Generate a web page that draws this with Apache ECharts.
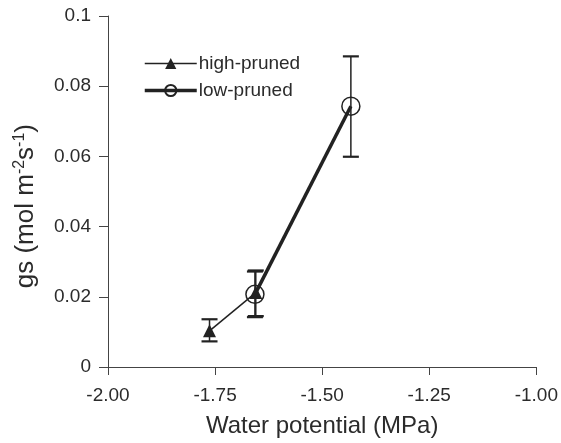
<!DOCTYPE html>
<html><head><meta charset="utf-8">
<script src="https://cdn.jsdelivr.net/npm/echarts@6/dist/echarts.min.js"></script>
<style>html,body{margin:0;padding:0;background:#fff}#c{width:561px;height:443px}</style>
</head><body><div id="c"></div>
<script>
// Data
const seriesNames = ['high-pruned', 'low-pruned'];
const highX = [-1.763, -1.655];
const highY = [0.0103, 0.0212];
const highLo = [0.0073, 0.0145];
const highHi = [0.0136, 0.0275];
const lowX = [-1.657, -1.433];
const lowY = [0.0207, 0.0743];
const lowLo = [0.0142, 0.0599];
const lowHi = [0.0272, 0.0885];
const xTicks = [-2.00, -1.75, -1.50, -1.25, -1.00];
const yTicks = [0, 0.02, 0.04, 0.06, 0.08, 0.1];

const font = 'Liberation Sans, Arial, Helvetica, sans-serif';
const txt = '#2b2b2b';
const ink = '#222';

function pts(xs, ys) { return xs.map((x, i) => [x, ys[i]]); }
function errData(xs, lo, hi) { return xs.map((x, i) => [x, lo[i], hi[i]]); }

function errRender(params, api) {
  const x = api.value(0), lo = api.value(1), hi = api.value(2);
  const p1 = api.coord([x, hi]), p2 = api.coord([x, lo]);
  const w = 8;
  const st = { stroke: ink, lineWidth: 1.5 };
  return { type: 'group', children: [
    { type: 'line', shape: { x1: p1[0], y1: p1[1], x2: p2[0], y2: p2[1] }, style: st },
    { type: 'line', shape: { x1: p1[0]-w, y1: p1[1], x2: p1[0]+w, y2: p1[1] }, style: { stroke: ink, lineWidth: 2.2 } },
    { type: 'line', shape: { x1: p2[0]-w, y1: p2[1], x2: p2[0]+w, y2: p2[1] }, style: { stroke: ink, lineWidth: 2.2 } }
  ]};
}

const chart = echarts.init(document.getElementById('c'), null, { renderer: 'canvas' });
chart.setOption({
  animation: false,
  backgroundColor: '#fff',
  grid: { left: 108, right: 22, top: 16, bottom: 72 },
  xAxis: {
    type: 'value', min: xTicks[0], max: xTicks[xTicks.length-1], interval: 0.25,
    axisLine: { show: true, onZero: false, lineStyle: { color: '#444', width: 1 } },
    axisTick: { show: true, length: 8, lineStyle: { color: '#444' } },
    splitLine: { show: false },
    axisLabel: { color: txt, fontFamily: font, fontSize: 19, margin: 19, formatter: v => v.toFixed(2) },
    name: 'Water potential (MPa)', nameLocation: 'middle', nameGap: 47,
    nameTextStyle: { color: txt, fontFamily: font, fontSize: 24 }
  },
  yAxis: {
    type: 'value', min: 0, max: 0.1, interval: 0.02,
    axisLine: { show: true, lineStyle: { color: '#444', width: 1 } },
    axisTick: { show: true, length: 9, lineStyle: { color: '#444' } },
    splitLine: { show: false },
    axisLabel: { color: txt, fontFamily: font, fontSize: 19, margin: 17,
      formatter: v => (v === 0 ? '0' : (Math.abs(v - 0.1) < 1e-9 ? '0.1' : v.toFixed(2))) }
  },
  legend: {
    orient: 'vertical', left: 138, top: 49, itemGap: 8,
    itemWidth: 52, itemHeight: 14,
    textStyle: { color: txt, fontFamily: font, fontSize: 19, padding: [0,0,0,-3] },
    data: [
      { name: seriesNames[0], lineStyle: { width: 1.5 } },
      { name: seriesNames[1], lineStyle: { width: 3.5 } }
    ]
  },
  graphic: [{
    type: 'text', left: 12, top: 124, rotation: Math.PI/2,
    style: {
      text: '{a|gs (mol m}{s|-2}{a|s}{s|-1}{a|)}',
      rich: {
        a: { fontFamily: font, fontSize: 26, fill: txt },
        s: { fontFamily: font, fontSize: 16, fill: txt, verticalAlign: 'top', padding: [0,0,11,0] }
      }
    }
  }],
  series: [
    { type: 'custom', renderItem: errRender, data: errData(highX, highLo, highHi), z: 1, silent: true, encode: { x: 0, y: [1, 2] } },
    { type: 'custom', renderItem: errRender, data: errData(lowX, lowLo, lowHi), z: 1, silent: true, encode: { x: 0, y: [1, 2] } },
    { name: seriesNames[0], type: 'line', data: pts(highX, highY), z: 3,
      symbol: 'triangle', symbolSize: 13,
      lineStyle: { color: ink, width: 1.5 }, itemStyle: { color: ink } },
    { name: seriesNames[1], type: 'line', data: pts(lowX, lowY), z: 2,
      symbol: 'circle', symbolSize: 18,
      lineStyle: { color: ink, width: 3.5 },
      itemStyle: { color: 'rgba(255,255,255,0)', borderColor: ink, borderWidth: 1.5 } }
  ]
});
</script></body></html>
